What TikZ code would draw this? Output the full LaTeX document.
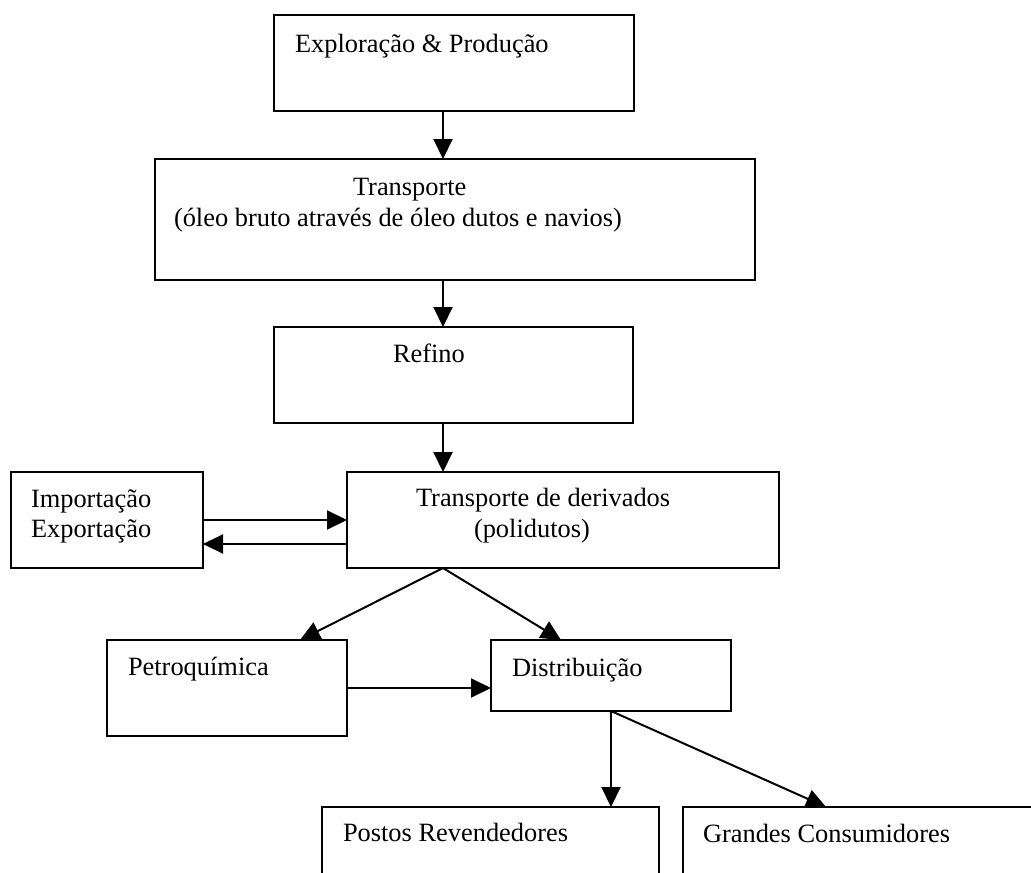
\documentclass[tikz,border=0pt]{standalone}
\usepackage{fontspec}
\setmainfont{Liberation Serif}
\usetikzlibrary{arrows.meta}
\begin{document}
\begin{tikzpicture}[x=1pt,y=-1pt,
  box/.style={draw, line width=2pt, inner sep=0pt, outer sep=0pt, rectangle},
  lbl/.style={anchor=base west, inner sep=0pt, outer sep=0pt, font=\fontsize{26.4}{30}\selectfont},
  arr/.style={line width=2pt, -{Triangle[length=20pt,width=19pt]}}]
\useasboundingbox (0,0) rectangle (1031,873);
\fill[white] (0,0) rectangle (1031,873);
\clip (0,0) rectangle (1031,873);
% helper coordinates
\coordinate (cx) at (443,0);
\coordinate (cp) at (300,0);
\coordinate (cq) at (561,0);
\coordinate (cr) at (826,0);
\coordinate (cy) at (0,544);
% boxes
\node[box, minimum width=360pt, minimum height=96pt]  (ep)   at (454,63) {};
\node[box, minimum width=600pt, minimum height=121pt] (tr)   at (455,219.5) {};
\node[box, minimum width=359pt, minimum height=96pt]  (ref)  at (453.5,375) {};
\node[box, minimum width=192pt, minimum height=96pt]  (imp)  at (107,520) {};
\node[box, minimum width=432pt, minimum height=96pt]  (der)  at (563,520) {};
\node[box, minimum width=240pt, minimum height=96pt]  (pet)  at (227,688) {};
\node[box, minimum width=240pt, minimum height=71pt]  (dist) at (611,675.5) {};
\node[box, minimum width=337pt, minimum height=96pt]  (post) at (490.5,855) {};
\node[box, minimum width=362pt, minimum height=96pt]  (gc)   at (864,855) {};
% texts
\node[lbl] (tep)  at (295,52)  {Exploração \& Produção};
\node[lbl] (ttr1) at (353,195) {Transporte};
\node[lbl] (ttr2) at (174,226) {(óleo bruto através de óleo dutos e navios)};
\node[lbl] (tref) at (393,362) {Refino};
\node[lbl] (timp1) at (31,507) {Importação};
\node[lbl] (timp2) at (31,537) {Exportação};
\node[lbl] (tder1) at (416,506) {Transporte de derivados};
\node[lbl] (tder2) at (474,537) {(polidutos)};
\node[lbl] (tpet) at (128,675) {Petroquímica};
\node[lbl] (tdist) at (512,676) {Distribuição};
\node[lbl] (tpost) at (343,841) {Postos Revendedores};
\node[lbl] (tgc)  at (703,842) {Grandes Consumidores};
% connectors
\draw[arr] (ep.south -| cx) -- (tr.north -| cx);
\draw[arr] (tr.south -| cx) -- (ref.north -| cx);
\draw[arr] (ref.south -| cx) -- (der.north -| cx);
\draw[arr] (imp.east) -- (der.west);
\draw[arr] (der.west |- cy) -- (imp.east |- cy);
\draw[arr] (der.south -| cx) -- (pet.north -| cp);
\draw[arr] (der.south -| cx) -- (dist.north -| cq);
\draw[arr] (pet.east) -- (pet.east -| dist.west);
\draw[arr] (dist.south) -- (post.north -| dist.south);
\draw[arr] (dist.south) -- (gc.north -| cr);
\end{tikzpicture}
\end{document}
